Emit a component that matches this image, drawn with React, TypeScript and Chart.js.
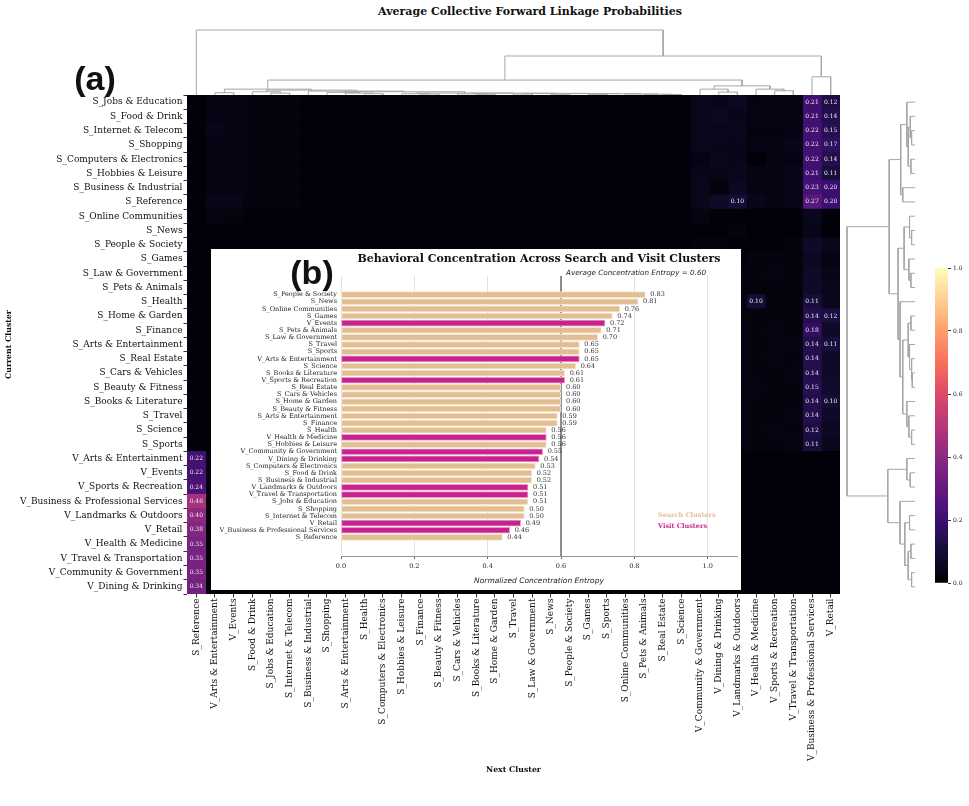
import React, { useEffect, useRef } from "react";
import { Chart, registerables } from "chart.js";

Chart.register(...registerables);

const SERIF = '"DejaVu Serif", serif';
const SANS = '"DejaVu Sans", sans-serif';

// ---------------- Heatmap data ----------------
const rowLabels = [
  "S_Jobs & Education", "S_Food & Drink", "S_Internet & Telecom", "S_Shopping",
  "S_Computers & Electronics", "S_Hobbies & Leisure", "S_Business & Industrial", "S_Reference",
  "S_Online Communities", "S_News", "S_People & Society", "S_Games", "S_Law & Government",
  "S_Pets & Animals", "S_Health", "S_Home & Garden", "S_Finance", "S_Arts & Entertainment",
  "S_Real Estate", "S_Cars & Vehicles", "S_Beauty & Fitness", "S_Books & Literature",
  "S_Travel", "S_Science", "S_Sports", "V_Arts & Entertainment", "V_Events",
  "V_Sports & Recreation", "V_Business & Professional Services", "V_Landmarks & Outdoors",
  "V_Retail", "V_Health & Medicine", "V_Travel & Transportation", "V_Community & Government",
  "V_Dining & Drinking",
];

const colLabels = [
  "S_Reference", "V_Arts & Entertainment", "V_Events", "S_Food & Drink", "S_Jobs & Education",
  "S_Internet & Telecom", "S_Business & Industrial", "S_Shopping", "S_Arts & Entertainment",
  "S_Health", "S_Computers & Electronics", "S_Hobbies & Leisure", "S_Finance",
  "S_Beauty & Fitness", "S_Cars & Vehicles", "S_Books & Literature", "S_Home & Garden",
  "S_Travel", "S_Law & Government", "S_News", "S_People & Society", "S_Games", "S_Sports",
  "S_Online Communities", "S_Pets & Animals", "S_Real Estate", "S_Science",
  "V_Community & Government", "V_Dining & Drinking", "V_Landmarks & Outdoors",
  "V_Health & Medicine", "V_Sports & Recreation", "V_Travel & Transportation",
  "V_Business & Professional Services", "V_Retail",
];

// rows = current cluster, columns = next cluster
const heatValues = [
  [0.01,0.03,0.03,0.02,0.02, 0.02,0.01,0.01,0.01,0.01, 0.01,0.01,0.01,0.01,0.01, 0.01,0.01,0.01,0.01,0.01, 0.01,0.01,0.01,0.01,0.01, 0.01,0.01,0.05,0.04,0.06, 0.02,0.03,0.03,0.21,0.12],
  [0.01,0.03,0.03,0.02,0.02, 0.02,0.01,0.01,0.01,0.01, 0.01,0.01,0.01,0.01,0.01, 0.01,0.01,0.01,0.01,0.01, 0.01,0.01,0.01,0.01,0.01, 0.01,0.01,0.05,0.06,0.04, 0.03,0.03,0.03,0.21,0.14],
  [0.01,0.04,0.03,0.02,0.02, 0.02,0.01,0.01,0.01,0.01, 0.01,0.01,0.01,0.01,0.01, 0.01,0.01,0.01,0.01,0.01, 0.01,0.01,0.01,0.01,0.01, 0.01,0.01,0.05,0.05,0.05, 0.02,0.02,0.03,0.22,0.15],
  [0.01,0.03,0.03,0.02,0.02, 0.02,0.01,0.01,0.01,0.01, 0.01,0.01,0.01,0.01,0.01, 0.01,0.01,0.01,0.01,0.01, 0.01,0.01,0.01,0.01,0.01, 0.01,0.01,0.05,0.04,0.04, 0.03,0.03,0.04,0.22,0.17],
  [0.01,0.03,0.03,0.02,0.02, 0.02,0.01,0.01,0.01,0.01, 0.01,0.01,0.01,0.01,0.01, 0.01,0.01,0.01,0.01,0.01, 0.01,0.01,0.01,0.01,0.01, 0.01,0.01,0.03,0.05,0.04, 0.01,0.03,0.03,0.22,0.14],
  [0.01,0.03,0.03,0.02,0.02, 0.02,0.01,0.01,0.01,0.01, 0.01,0.01,0.01,0.01,0.01, 0.01,0.01,0.01,0.01,0.01, 0.01,0.01,0.01,0.01,0.01, 0.01,0.01,0.04,0.04,0.05, 0.03,0.03,0.04,0.21,0.11],
  [0.01,0.03,0.03,0.02,0.02, 0.02,0.01,0.01,0.01,0.01, 0.01,0.01,0.01,0.01,0.01, 0.01,0.01,0.01,0.01,0.01, 0.01,0.01,0.01,0.01,0.01, 0.01,0.01,0.05,0.02,0.06, 0.03,0.03,0.04,0.23,0.20],
  [0.01,0.04,0.04,0.02,0.02, 0.02,0.01,0.01,0.01,0.01, 0.01,0.01,0.01,0.01,0.01, 0.01,0.01,0.01,0.01,0.01, 0.01,0.01,0.01,0.01,0.01, 0.01,0.01,0.05,0.07,0.10, 0.04,0.03,0.04,0.27,0.20],
  [0.01,0.03,0.02,0.01,0.01, 0.01,0.01,0.01,0.01,0.01, 0.01,0.01,0.01,0.01,0.01, 0.01,0.01,0.01,0.01,0.01, 0.01,0.01,0.01,0.01,0.01, 0.01,0.01,0.03,0.01,0.01, 0.01,0.01,0.01,0.05,0.01],
  [0.01,0.01,0.01,0.01,0.01, 0.01,0.01,0.01,0.01,0.01, 0.01,0.01,0.01,0.01,0.01, 0.01,0.01,0.01,0.01,0.01, 0.01,0.01,0.01,0.01,0.01, 0.01,0.01,0.01,0.01,0.02, 0.01,0.01,0.01,0.04,0.01],
  [0.01,0.01,0.01,0.01,0.01, 0.01,0.01,0.01,0.01,0.01, 0.01,0.01,0.01,0.01,0.01, 0.01,0.01,0.01,0.01,0.01, 0.01,0.01,0.01,0.01,0.01, 0.01,0.01,0.02,0.02,0.01, 0.01,0.01,0.02,0.07,0.05],
  [0.01,0.01,0.01,0.01,0.01, 0.01,0.01,0.01,0.01,0.01, 0.01,0.01,0.01,0.01,0.01, 0.01,0.01,0.01,0.01,0.01, 0.01,0.01,0.01,0.01,0.01, 0.01,0.01,0.01,0.01,0.01, 0.02,0.02,0.02,0.06,0.03],
  [0.01,0.01,0.01,0.01,0.01, 0.01,0.01,0.01,0.01,0.01, 0.01,0.01,0.01,0.01,0.01, 0.01,0.01,0.01,0.01,0.01, 0.01,0.01,0.01,0.01,0.01, 0.01,0.01,0.04,0.02,0.02, 0.02,0.03,0.02,0.07,0.04],
  [0.01,0.01,0.01,0.01,0.01, 0.01,0.01,0.01,0.01,0.01, 0.01,0.01,0.01,0.01,0.01, 0.01,0.01,0.01,0.01,0.01, 0.01,0.01,0.01,0.01,0.01, 0.01,0.01,0.03,0.02,0.02, 0.02,0.02,0.02,0.07,0.05],
  [0.01,0.01,0.01,0.01,0.01, 0.01,0.01,0.01,0.01,0.01, 0.01,0.01,0.01,0.01,0.01, 0.01,0.01,0.01,0.01,0.01, 0.01,0.01,0.01,0.01,0.01, 0.01,0.01,0.02,0.02,0.02, 0.10,0.02,0.02,0.11,0.05],
  [0.01,0.01,0.01,0.01,0.01, 0.01,0.01,0.01,0.01,0.01, 0.01,0.01,0.01,0.01,0.01, 0.01,0.01,0.01,0.01,0.01, 0.01,0.01,0.01,0.01,0.01, 0.01,0.01,0.03,0.03,0.03, 0.02,0.02,0.02,0.14,0.12],
  [0.01,0.01,0.01,0.01,0.01, 0.01,0.01,0.01,0.01,0.01, 0.01,0.01,0.01,0.01,0.01, 0.01,0.01,0.01,0.01,0.01, 0.01,0.01,0.01,0.01,0.01, 0.01,0.01,0.03,0.03,0.03, 0.02,0.03,0.02,0.18,0.07],
  [0.01,0.01,0.01,0.01,0.01, 0.01,0.01,0.01,0.01,0.01, 0.01,0.01,0.01,0.01,0.01, 0.01,0.01,0.01,0.01,0.01, 0.01,0.01,0.01,0.01,0.01, 0.01,0.01,0.03,0.03,0.03, 0.02,0.03,0.03,0.14,0.11],
  [0.01,0.01,0.01,0.01,0.01, 0.01,0.01,0.01,0.01,0.01, 0.01,0.01,0.01,0.01,0.01, 0.01,0.01,0.01,0.01,0.01, 0.01,0.01,0.01,0.01,0.01, 0.01,0.01,0.03,0.03,0.03, 0.02,0.03,0.02,0.14,0.07],
  [0.01,0.01,0.01,0.01,0.01, 0.01,0.01,0.01,0.01,0.01, 0.01,0.01,0.01,0.01,0.01, 0.01,0.01,0.01,0.01,0.01, 0.01,0.01,0.01,0.01,0.01, 0.01,0.01,0.03,0.03,0.03, 0.02,0.02,0.03,0.14,0.07],
  [0.01,0.01,0.01,0.01,0.01, 0.01,0.01,0.01,0.01,0.01, 0.01,0.01,0.01,0.01,0.01, 0.01,0.01,0.01,0.01,0.01, 0.01,0.01,0.01,0.01,0.01, 0.01,0.01,0.03,0.03,0.03, 0.03,0.02,0.02,0.15,0.08],
  [0.01,0.01,0.01,0.01,0.01, 0.01,0.01,0.01,0.01,0.01, 0.01,0.01,0.01,0.01,0.01, 0.01,0.01,0.01,0.01,0.01, 0.01,0.01,0.01,0.01,0.01, 0.01,0.01,0.03,0.03,0.03, 0.02,0.02,0.02,0.14,0.10],
  [0.01,0.01,0.01,0.01,0.01, 0.01,0.01,0.01,0.01,0.01, 0.01,0.01,0.01,0.01,0.01, 0.01,0.01,0.01,0.01,0.01, 0.01,0.01,0.01,0.01,0.01, 0.01,0.01,0.03,0.03,0.03, 0.02,0.02,0.03,0.14,0.07],
  [0.01,0.01,0.01,0.01,0.01, 0.01,0.01,0.01,0.01,0.01, 0.01,0.01,0.01,0.01,0.01, 0.01,0.01,0.01,0.01,0.01, 0.01,0.01,0.01,0.01,0.01, 0.01,0.01,0.03,0.03,0.03, 0.02,0.03,0.02,0.12,0.06],
  [0.01,0.01,0.01,0.01,0.01, 0.01,0.01,0.01,0.01,0.01, 0.01,0.01,0.01,0.01,0.01, 0.01,0.01,0.01,0.01,0.01, 0.01,0.01,0.01,0.01,0.01, 0.01,0.01,0.03,0.03,0.03, 0.02,0.02,0.03,0.11,0.05],
  [0.22,0.02,0.02,0.01,0.01, 0.01,0.01,0.01,0.01,0.01, 0.01,0.01,0.01,0.01,0.01, 0.01,0.01,0.01,0.01,0.01, 0.01,0.01,0.01,0.01,0.01, 0.01,0.01,0.01,0.01,0.01, 0.01,0.01,0.01,0.01,0.01],
  [0.22,0.02,0.02,0.01,0.01, 0.01,0.01,0.01,0.01,0.01, 0.01,0.01,0.01,0.01,0.01, 0.01,0.01,0.01,0.01,0.01, 0.01,0.01,0.01,0.01,0.01, 0.01,0.01,0.01,0.01,0.01, 0.01,0.01,0.01,0.01,0.01],
  [0.24,0.02,0.02,0.01,0.01, 0.01,0.01,0.01,0.01,0.01, 0.01,0.01,0.01,0.01,0.01, 0.01,0.01,0.01,0.01,0.01, 0.01,0.01,0.01,0.01,0.01, 0.01,0.01,0.01,0.01,0.01, 0.01,0.01,0.01,0.01,0.01],
  [0.46,0.01,0.01,0.01,0.01, 0.01,0.01,0.01,0.01,0.01, 0.01,0.01,0.01,0.01,0.01, 0.01,0.01,0.01,0.01,0.01, 0.01,0.01,0.01,0.01,0.01, 0.01,0.01,0.01,0.01,0.01, 0.01,0.01,0.01,0.01,0.01],
  [0.40,0.01,0.01,0.01,0.01, 0.01,0.01,0.01,0.01,0.01, 0.01,0.01,0.01,0.01,0.01, 0.01,0.01,0.01,0.01,0.01, 0.01,0.01,0.01,0.01,0.01, 0.01,0.01,0.01,0.01,0.01, 0.01,0.01,0.01,0.01,0.01],
  [0.38,0.01,0.01,0.01,0.01, 0.01,0.01,0.01,0.01,0.01, 0.01,0.01,0.01,0.01,0.01, 0.01,0.01,0.01,0.01,0.01, 0.01,0.01,0.01,0.01,0.01, 0.01,0.01,0.01,0.01,0.01, 0.01,0.01,0.01,0.01,0.01],
  [0.35,0.01,0.01,0.01,0.01, 0.01,0.01,0.01,0.01,0.01, 0.01,0.01,0.01,0.01,0.01, 0.01,0.01,0.01,0.01,0.01, 0.01,0.01,0.01,0.01,0.01, 0.01,0.01,0.01,0.01,0.01, 0.01,0.01,0.01,0.01,0.01],
  [0.35,0.01,0.01,0.01,0.01, 0.01,0.01,0.01,0.01,0.01, 0.01,0.01,0.01,0.01,0.01, 0.01,0.01,0.01,0.01,0.01, 0.01,0.01,0.01,0.01,0.01, 0.01,0.01,0.01,0.01,0.01, 0.01,0.01,0.01,0.01,0.01],
  [0.35,0.01,0.01,0.01,0.01, 0.01,0.01,0.01,0.01,0.01, 0.01,0.01,0.01,0.01,0.01, 0.01,0.01,0.01,0.01,0.01, 0.01,0.01,0.01,0.01,0.01, 0.01,0.01,0.01,0.01,0.01, 0.01,0.01,0.01,0.01,0.01],
  [0.34,0.01,0.01,0.01,0.01, 0.01,0.01,0.01,0.01,0.01, 0.01,0.01,0.01,0.01,0.01, 0.01,0.01,0.01,0.01,0.01, 0.01,0.01,0.01,0.01,0.01, 0.01,0.01,0.01,0.01,0.01, 0.01,0.01,0.01,0.01,0.01],
];
const annotThreshold = 0.1;

// Linkage trees: [height, left, right]; leaves are indices into colLabels / rowLabels
const cA = [0.035, 1, 2];
const cB1 = [0.05, 3, [0.03, 4, 5]];
const cC1 = [0.04, 7, [0.03, 8, [0.02, 9, 10]]];
const cC2e = [0.016, 23, [0.012, 24, [0.008, 25, 26]]];
const cC2d = [0.02, [0.01, 21, 22], cC2e];
const cC2c = [0.022, [0.012, 19, 20], cC2d];
const cC2b = [0.025, [0.015, 17, 18], cC2c];
const cC2a = [0.028, [0.018, 14, [0.012, 15, 16]], cC2b];
const cC2 = [0.03, [0.02, 11, [0.015, 12, 13]], cC2a];
const cC = [0.05, cC1, cC2];
const cB2 = [0.06, 6, cC];
const cB = [0.075, cB1, cB2];
const cL = [0.09, cA, cB];
const cR = [0.14, [0.09, 27, [0.045, 28, 29]], [0.09, 30, [0.065, 31, 32]]];
const colTree = [1.0, 0, [0.6, [0.23, cL, cR], [0.28, 33, 34]]];

const rU1 = [0.21, [0.12, 0, [0.1, [0.07, 1, [0.05, 2, 3]], [0.06, 4, 5]]], [0.18, 6, 7]];
const rU2a = [0.16, [0.08, 8, [0.05, 9, 10]], [0.09, 11, [0.06, 12, 13]]];
const rU2c = [0.18, [0.1, [0.06, 15, 16], [0.08, 17, [0.05, 18, [0.04, 19, 20]]]], [0.12, 21, [0.09, 22, [0.05, 23, 24]]]];
const rU = [0.38, rU1, [0.25, rU2a, [0.22, 14, rU2c]]];
const rV = [0.4, [0.12, 25, [0.07, 26, 27]], [0.22, 28, [0.15, [0.08, 29, 30], [0.1, [0.06, 31, 32], [0.05, 33, 34]]]]];
const rowTree = [1.0, rU, rV];

// ---------------- Inset bar data ----------------
const entropyLabels = [
  "S_People & Society", "S_News", "S_Online Communities", "S_Games", "V_Events",
  "S_Pets & Animals", "S_Law & Government", "S_Travel", "S_Sports", "V_Arts & Entertainment",
  "S_Science", "S_Books & Literature", "V_Sports & Recreation", "S_Real Estate",
  "S_Cars & Vehicles", "S_Home & Garden", "S_Beauty & Fitness", "S_Arts & Entertainment",
  "S_Finance", "S_Health", "V_Health & Medicine", "S_Hobbies & Leisure",
  "V_Community & Government", "V_Dining & Drinking", "S_Computers & Electronics",
  "S_Food & Drink", "S_Business & Industrial", "V_Landmarks & Outdoors",
  "V_Travel & Transportation", "S_Jobs & Education", "S_Shopping", "S_Internet & Telecom",
  "V_Retail", "V_Business & Professional Services", "S_Reference",
];
const entropyValues = [
  0.83, 0.81, 0.76, 0.74, 0.72, 0.71, 0.70, 0.65, 0.65, 0.65, 0.64, 0.61, 0.61, 0.60, 0.60,
  0.60, 0.60, 0.59, 0.59, 0.56, 0.56, 0.56, 0.55, 0.54, 0.53, 0.52, 0.52, 0.51, 0.51, 0.51,
  0.50, 0.50, 0.49, 0.46, 0.44,
];
const averageEntropy = 0.6;

const SEARCH_COLOR = "#E2BE91";
const SEARCH_EDGE = "#F2E3D2";
const VISIT_COLOR = "#C8238C";
const VISIT_EDGE = "#E89CC8";

// ---------------- Colormap ----------------
const magmaStops = ["#000004", "#140e36", "#3b0f70", "#641a80", "#8c2981", "#b73779",
  "#de4968", "#f7705c", "#fe9f6d", "#fecf92", "#fcfdbf"];

function hexToRgb(h: string) {
  const n = parseInt(h.slice(1), 16);
  return [(n >> 16) & 255, (n >> 8) & 255, n & 255];
}
function magma(t: number) {
  const v = Math.max(0, Math.min(1, t));
  const p = v * (magmaStops.length - 1);
  const i = Math.min(Math.floor(p), magmaStops.length - 2);
  const f = p - i;
  const a = hexToRgb(magmaStops[i]);
  const b = hexToRgb(magmaStops[i + 1]);
  const c = a.map((x, k) => Math.round(x + (b[k] - x) * f));
  return `rgb(${c[0]},${c[1]},${c[2]})`;
}

function dendroLines(tree: any, horizontal: boolean) {
  const lines: { x: number; y: number }[][] = [];
  const walk = (node: any): { p: number; h: number } => {
    if (typeof node === "number") return { p: node, h: 0 };
    const [h, a, b] = node;
    const A = walk(a);
    const B = walk(b);
    const pts = [[A.p, A.h], [A.p, h], [B.p, h], [B.p, B.h]];
    lines.push(pts.map(([p, hh]) => (horizontal ? { x: p, y: hh } : { x: hh, y: p })));
    return { p: (A.p + B.p) / 2, h };
  };
  walk(tree);
  return lines;
}

const DENDRO_COLOR = "#a6a6a6";

export default function App() {
  const heatRef = useRef<HTMLCanvasElement>(null);
  const topRef = useRef<HTMLCanvasElement>(null);
  const rightRef = useRef<HTMLCanvasElement>(null);
  const cbarRef = useRef<HTMLCanvasElement>(null);
  const insetRef = useRef<HTMLCanvasElement>(null);

  useEffect(() => {
    const charts: Chart[] = [];

    // ---------- Heatmap ----------
    const heatBg = {
      id: "heatBg",
      beforeDatasetsDraw(chart: any) {
        const { ctx, chartArea: a } = chart;
        ctx.save();
        ctx.fillStyle = "#000004";
        ctx.fillRect(a.left, a.top, a.right - a.left, a.bottom - a.top);
        ctx.restore();
      },
    };
    const heatAnnot = {
      id: "heatAnnot",
      afterDatasetsDraw(chart: any) {
        const { ctx } = chart;
        const xs = chart.scales.x;
        const ys = chart.scales.y;
        ctx.save();
        ctx.font = `6px ${SERIF}`;
        ctx.fillStyle = "#ececec";
        ctx.textAlign = "center";
        ctx.textBaseline = "middle";
        heatValues.forEach((row, i) =>
          row.forEach((v, j) => {
            if (v >= annotThreshold) ctx.fillText(v.toFixed(2), xs.getPixelForValue(j), ys.getPixelForValue(i));
          })
        );
        ctx.restore();
      },
    };
    charts.push(
      new Chart(heatRef.current!, {
        type: "bar",
        data: {
          labels: rowLabels,
          datasets: colLabels.map((col, j) => ({
            label: col,
            data: rowLabels.map(() => [j - 0.5, j + 0.5]),
            backgroundColor: heatValues.map((row) => magma(row[j])),
            borderWidth: 0,
            barPercentage: 1,
            categoryPercentage: 1,
            grouped: false,
          })) as any,
        },
        options: {
          indexAxis: "y",
          animation: false,
          responsive: false,
          events: [],
          layout: { padding: { left: 0, top: 95, right: 129, bottom: 27 } },
          plugins: { legend: { display: false }, tooltip: { enabled: false } },
          scales: {
            x: {
              type: "linear",
              min: -0.5,
              max: 34.5,
              afterBuildTicks: (s: any) => {
                s.ticks = colLabels.map((_, i) => ({ value: i }));
              },
              afterFit: (s: any) => {
                s.height = 185;
              },
              ticks: {
                autoSkip: false,
                minRotation: 90,
                maxRotation: 90,
                padding: 1,
                color: "#111",
                font: { family: SERIF, size: 9 },
                callback: (v: any) => colLabels[v as number],
              },
              grid: { drawOnChartArea: false, drawTicks: true, tickLength: 3.5, tickColor: "#333" },
              border: { display: false },
              title: {
                display: true,
                text: "Next Cluster",
                color: "#111",
                font: { family: SERIF, size: 7.8, weight: "bold" },
              },
            },
            y: {
              type: "category",
              afterFit: (s: any) => {
                s.width = 187;
              },
              ticks: {
                autoSkip: false,
                padding: 1,
                color: "#111",
                font: { family: SERIF, size: 9 },
              },
              grid: { drawOnChartArea: false, drawTicks: true, tickLength: 3.5, tickColor: "#333" },
              border: { display: false },
              title: {
                display: true,
                text: "Current Cluster",
                color: "#111",
                font: { family: SERIF, size: 7.8, weight: "bold" },
              },
            },
          },
        } as any,
        plugins: [heatBg, heatAnnot],
      })
    );

    // ---------- Dendrograms ----------
    const makeDendro = (canvas: HTMLCanvasElement, tree: any, horizontal: boolean, padding: any, scales: any) =>
      new Chart(canvas, {
        type: "scatter",
        data: {
          datasets: dendroLines(tree, horizontal).map((pts) => ({
            data: pts,
            showLine: true,
            borderColor: DENDRO_COLOR,
            borderWidth: 1,
            pointRadius: 0,
            clip: false as any,
          })),
        },
        options: {
          animation: false,
          responsive: false,
          events: [],
          layout: { padding },
          plugins: { legend: { display: false }, tooltip: { enabled: false } },
          scales,
        } as any,
      });

    charts.push(
      makeDendro(topRef.current!, colTree, true, { top: 5, left: 0, right: 0, bottom: 0 }, {
        x: { type: "linear", min: -0.5, max: 34.5, display: false },
        y: { type: "linear", min: 0, max: 1, display: false },
      })
    );
    charts.push(
      makeDendro(rightRef.current!, rowTree, false, { top: 0, left: 7, right: 5, bottom: 0 }, {
        x: { type: "linear", min: 0, max: 1, reverse: true, display: false },
        y: { type: "linear", min: -0.5, max: 34.5, reverse: true, display: false },
      })
    );

    // ---------- Colorbar ----------
    charts.push(
      new Chart(cbarRef.current!, {
        type: "bar",
        data: {
          labels: [""],
          datasets: [
            {
              data: [[0, 1]] as any,
              borderWidth: 0,
              barPercentage: 1,
              categoryPercentage: 1,
              backgroundColor: (c: any) => {
                const area = c.chart.chartArea;
                if (!area) return magma(0.5);
                const g = c.chart.ctx.createLinearGradient(0, area.bottom, 0, area.top);
                magmaStops.forEach((s, i) => g.addColorStop(i / (magmaStops.length - 1), s));
                return g;
              },
            },
          ],
        },
        options: {
          animation: false,
          responsive: false,
          events: [],
          layout: { padding: { left: 10, top: 8, right: 0, bottom: 7 } },
          plugins: { legend: { display: false }, tooltip: { enabled: false } },
          scales: {
            x: { display: false },
            y: {
              position: "right",
              min: 0,
              max: 1,
              afterFit: (s: any) => {
                s.width = 21;
              },
              ticks: {
                stepSize: 0.2,
                padding: 2,
                color: "#222",
                font: { family: SERIF, size: 6 },
                callback: (v: any) => Number(v).toFixed(1),
              },
              grid: { drawOnChartArea: false, tickLength: 3, tickColor: "#333" },
              border: { display: false },
            },
          },
        } as any,
      })
    );

    // ---------- Inset bar chart ----------
    const insetDecor = {
      id: "insetDecor",
      beforeDatasetsDraw(chart: any) {
        const { ctx, chartArea: a } = chart;
        const xs = chart.scales.x;
        const px = xs.getPixelForValue(averageEntropy);
        ctx.save();
        ctx.strokeStyle = "#555";
        ctx.lineWidth = 1.3;
        ctx.beginPath();
        ctx.moveTo(px, a.top);
        ctx.lineTo(px, a.bottom);
        ctx.stroke();
        ctx.restore();
      },
      afterDatasetsDraw(chart: any) {
        const { ctx, chartArea: a } = chart;
        const xs = chart.scales.x;
        const px = xs.getPixelForValue(averageEntropy);
        const meta = chart.getDatasetMeta(0);
        ctx.save();
        ctx.font = `6.5px ${SERIF}`;
        ctx.fillStyle = "#333";
        ctx.textAlign = "left";
        ctx.textBaseline = "middle";
        meta.data.forEach((el: any, i: number) => {
          ctx.fillText(entropyValues[i].toFixed(2), el.x + 5, el.y);
        });
        ctx.font = `italic 7.2px ${SANS}`;
        ctx.fillStyle = "#222";
        ctx.fillText(`Average Concentration Entropy = ${averageEntropy.toFixed(2)}`, px + 5, a.top - 3);
        ctx.font = `bold 11px ${SERIF}`;
        ctx.fillStyle = "#111";
        ctx.textAlign = "center";
        ctx.fillText("Behavioral Concentration Across Search and Visit Clusters", (a.left + a.right) / 2, a.top - 17);
        ctx.font = `bold 6.5px ${SERIF}`;
        ctx.textAlign = "left";
        ctx.fillStyle = SEARCH_COLOR;
        ctx.fillText("Search Clusters", a.right - 79, a.bottom - 41);
        ctx.fillStyle = VISIT_COLOR;
        ctx.fillText("Visit Clusters", a.right - 79, a.bottom - 30);
        ctx.restore();
      },
    };
    charts.push(
      new Chart(insetRef.current!, {
        type: "bar",
        data: {
          datasets: [
            {
              data: entropyLabels.map((_, i) => ({ x: entropyValues[i], y: i })) as any,
              backgroundColor: entropyLabels.map((l) => (l.startsWith("V_") ? VISIT_COLOR : SEARCH_COLOR)),
              borderColor: entropyLabels.map((l) => (l.startsWith("V_") ? VISIT_EDGE : SEARCH_EDGE)),
              borderWidth: 1,
              borderSkipped: false,
              barThickness: 6,
            },
          ],
        },
        options: {
          indexAxis: "y",
          animation: false,
          responsive: false,
          events: [],
          layout: { padding: { left: 0, top: 27, right: 4, bottom: 4 } },
          plugins: { legend: { display: false }, tooltip: { enabled: false } },
          scales: {
            x: {
              type: "linear",
              min: 0,
              max: 1.08,
              afterFit: (s: any) => {
                s.height = 30;
              },
              ticks: {
                stepSize: 0.2,
                includeBounds: false,
                padding: 3,
                color: "#222",
                font: { family: SERIF, size: 6.5 },
                callback: (v: any) => Number(v).toFixed(1),
              },
              grid: {
                color: "#e2e2e2",
                dash: [2, 2],
                borderDash: [2, 2],
                tickBorderDash: [],
                tickLength: 3,
                tickColor: "#666",
              },
              border: { display: true, color: "#999", width: 1 },
              title: {
                display: true,
                text: "Normalized Concentration Entropy",
                color: "#222",
                padding: { top: 2, bottom: 0 },
                font: { family: SANS, size: 7.5, style: "italic" },
              },
            },
            y: {
              type: "linear",
              reverse: true,
              min: -2.04,
              max: 36.04,
              afterBuildTicks: (s: any) => {
                s.ticks = entropyLabels.map((_, i) => ({ value: i }));
              },
              afterFit: (s: any) => {
                s.width = 130;
              },
              ticks: {
                autoSkip: false,
                padding: 4,
                color: "#222",
                font: { family: SERIF, size: 6.5 },
                callback: (v: any) => entropyLabels[v as number],
              },
              grid: { display: false, drawTicks: false, tickLength: 0 },
              border: { display: false },
            },
          },
        } as any,
        plugins: [insetDecor],
      })
    );

    return () => charts.forEach((c) => c.destroy());
  }, []);

  const abs = (left: number, top: number, width: number, height: number): React.CSSProperties => ({
    position: "absolute",
    left,
    top,
    width,
    height,
  });

  return (
    <div style={{ position: "absolute", left: 0, top: 0, width: 969, height: 806, background: "#fff", overflow: "hidden" }}>
      <div
        style={{
          position: "absolute",
          left: 530,
          top: 11,
          transform: "translate(-50%, -50%)",
          whiteSpace: "nowrap",
          fontFamily: SERIF,
          fontWeight: "bold",
          fontSize: 11,
          color: "#111",
        }}
      >
        Average Collective Forward Linkage Probabilities
      </div>
      <canvas ref={heatRef} width={969} height={806} style={abs(0, 0, 969, 806)} />
      <canvas ref={topRef} width={653} height={70} style={abs(187, 25, 653, 70)} />
      <canvas ref={rightRef} width={80} height={499} style={abs(840, 95, 80, 499)} />
      <canvas ref={cbarRef} width={44} height={330} style={abs(925, 260, 44, 330)} />
      <canvas ref={insetRef} width={530} height={341} style={{ ...abs(211, 249, 530, 341), background: "#fff" }} />
      <div
        style={{
          position: "absolute",
          left: 95,
          top: 78,
          transform: "translate(-50%, -50%)",
          fontFamily: '"Liberation Sans", Arial, sans-serif',
          fontWeight: "bold",
          fontSize: 34,
          color: "#111",
          whiteSpace: "nowrap",
        }}
      >
        (a)
      </div>
      <div
        style={{
          position: "absolute",
          left: 312,
          top: 272,
          transform: "translate(-50%, -50%)",
          fontFamily: '"Liberation Sans", Arial, sans-serif',
          fontWeight: "bold",
          fontSize: 34,
          color: "#111",
          whiteSpace: "nowrap",
        }}
      >
        (b)
      </div>
    </div>
  );
}
